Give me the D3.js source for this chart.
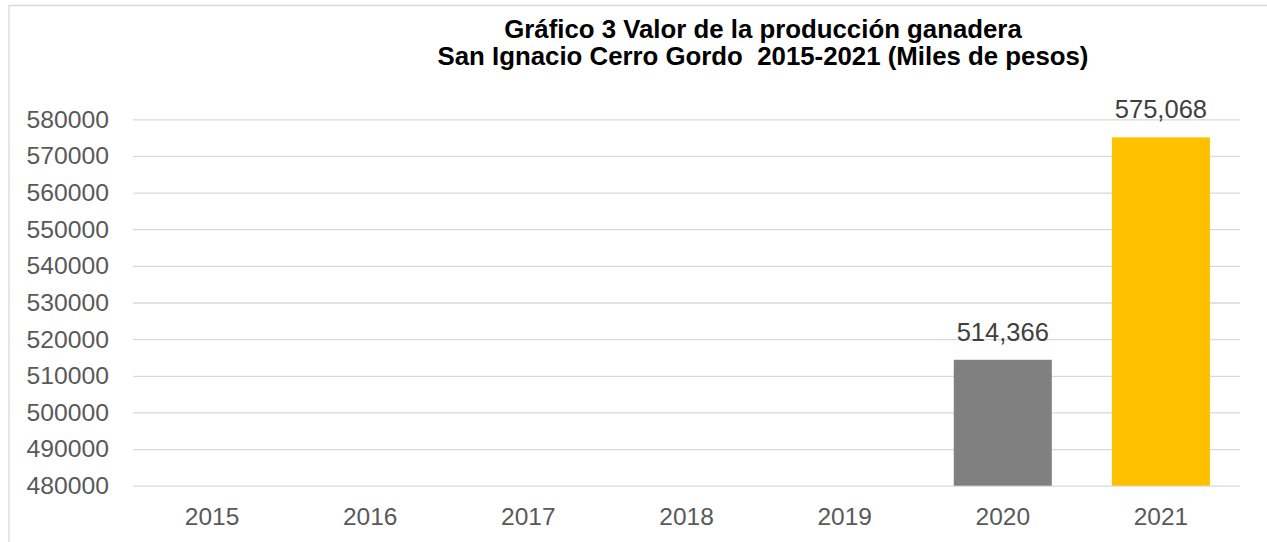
<!DOCTYPE html>
<html>
<head>
<meta charset="utf-8">
<script src="https://cdn.jsdelivr.net/npm/d3@7"></script>
<style>
  body { margin: 0; background: #fff; }
  svg text { font-family: "Liberation Sans", Arial, sans-serif; }
</style>
</head>
<body>
<svg id="chart" width="1267" height="542"></svg>
<script>
// data
var years = ["2015", "2016", "2017", "2018", "2019", "2020", "2021"];
var valores = [null, null, null, null, null, 514366, 575068];
var barColors = ["#808080", "#808080", "#808080", "#808080", "#808080", "#808080", "#FFC000"];
var yTicks = [480000, 490000, 500000, 510000, 520000, 530000, 540000, 550000, 560000, 570000, 580000];
var titleLines = ["Gráfico 3 Valor de la producción ganadera",
    "San Ignacio Cerro Gordo  2015-2021 (Miles de pesos)"];

var svg = d3.select("#chart");

var plot = { left: 133, right: 1240, top: 119.3, bottom: 485.7 };

var x = d3.scaleBand()
    .domain(years)
    .range([plot.left, plot.right])
    .paddingInner(0.38)
    .paddingOuter(0.19);

var y = d3.scaleLinear()
    .domain([480000, 580000])
    .range([plot.bottom, plot.top]);

// outer border (only top & left visible)
svg.append("line")
    .attr("x1", 9).attr("x2", 1267).attr("y1", 5.5).attr("y2", 5.5)
    .style("stroke", "#d9d9d9").style("stroke-width", 1.3);
svg.append("line")
    .attr("x1", 9).attr("x2", 9).attr("y1", 5).attr("y2", 542)
    .style("stroke", "#d9d9d9").style("stroke-width", 1.3);

// title
svg.append("g").selectAll("text")
    .data(titleLines)
    .enter().append("text")
    .attr("x", 763)
    .attr("y", (d, i) => 37.5 + i * 27.5)
    .attr("text-anchor", "middle")
    .style("font-weight", "bold")
    .style("font-size", "25.8px")
    .style("white-space", "pre")
    .style("fill", "#000")
    .text(d => d);

// gridlines + y labels
var yAxis = svg.append("g")
    .attr("transform", "translate(" + plot.left + ",0)")
    .call(d3.axisLeft(y).tickValues(yTicks).tickSize(-(plot.right - plot.left)).tickPadding(24).tickFormat(d3.format("d")));

yAxis.select(".domain").remove();
yAxis.selectAll(".tick line")
    .style("stroke", "#d9d9d9")
    .style("stroke-width", 1.3);
yAxis.selectAll(".tick text")
    .style("font-size", "24.7px")
    .style("fill", "#595959");

// x labels
var xAxis = svg.append("g")
    .attr("transform", "translate(0," + plot.bottom + ")")
    .call(d3.axisBottom(x).tickSize(0).tickPadding(22));

xAxis.select(".domain").remove();
xAxis.selectAll(".tick text")
    .style("font-size", "24.5px")
    .style("fill", "#595959");

// bars
var rows = years.map((d, i) => ({ year: d, value: valores[i], color: barColors[i] }))
    .filter(d => d.value != null);

svg.append("g").selectAll("rect")
    .data(rows)
    .enter().append("rect")
    .attr("x", d => x(d.year))
    .attr("width", x.bandwidth())
    .attr("y", d => y(d.value))
    .attr("height", d => y(480000) - y(d.value))
    .style("fill", d => d.color);

// value labels
svg.append("g").selectAll("text")
    .data(rows)
    .enter().append("text")
    .attr("x", d => x(d.year) + x.bandwidth() / 2)
    .attr("y", d => y(d.value) - 19)
    .attr("text-anchor", "middle")
    .style("font-size", "25.5px")
    .style("fill", "#404040")
    .text(d => d3.format(",")(d.value));
</script>
</body>
</html>
